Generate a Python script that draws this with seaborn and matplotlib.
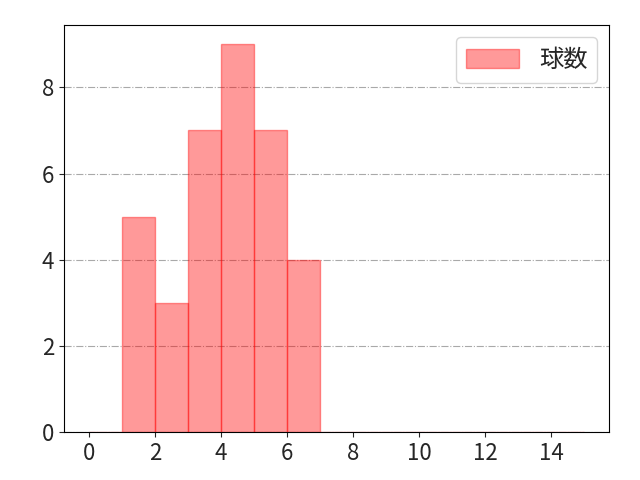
import matplotlib
matplotlib.use("Agg")
import matplotlib.pyplot as plt
import seaborn as sns

sns.set_style("ticks")
plt.rcParams["font.family"] = ["Noto Sans CJK JP", "DejaVu Sans"]

# pitch count bins (left edges) and number of games
bin_left = [0, 1, 2, 3, 4, 5, 6, 7, 8, 9, 10, 11, 12, 13, 14]
counts = [0, 5, 3, 7, 9, 7, 4, 0, 0, 0, 0, 0, 0, 0, 0]
bin_edges = list(range(0, 16))
x_ticks = [0, 2, 4, 6, 8, 10, 12, 14]

fig, ax = plt.subplots(figsize=(6.4, 4.8), dpi=100)
sns.histplot(
    x=bin_left,
    weights=counts,
    bins=bin_edges,
    color="red",
    alpha=0.4,
    linewidth=1,
    label="球数",
    ax=ax,
)
for p in ax.patches:
    p.set_edgecolor((1, 0, 0, 0.4))
ax.set_xticks(x_ticks)
ax.grid(axis="y", linestyle="-.", color="darkgray", linewidth=0.8)
ax.set_axisbelow(True)
ax.set_xlabel("")
ax.set_ylabel("")
ax.tick_params(axis="both", which="major", labelsize=16)
for s in ax.spines.values():
    s.set_visible(True)
    s.set_color("black")
ax.legend(loc="upper right", fontsize=17.5, handlelength=2.2, handleheight=0.85)
fig.subplots_adjust(left=0.1, right=0.952, bottom=0.1, top=0.948)
plt.savefig("out.png", format="png", dpi=100)
